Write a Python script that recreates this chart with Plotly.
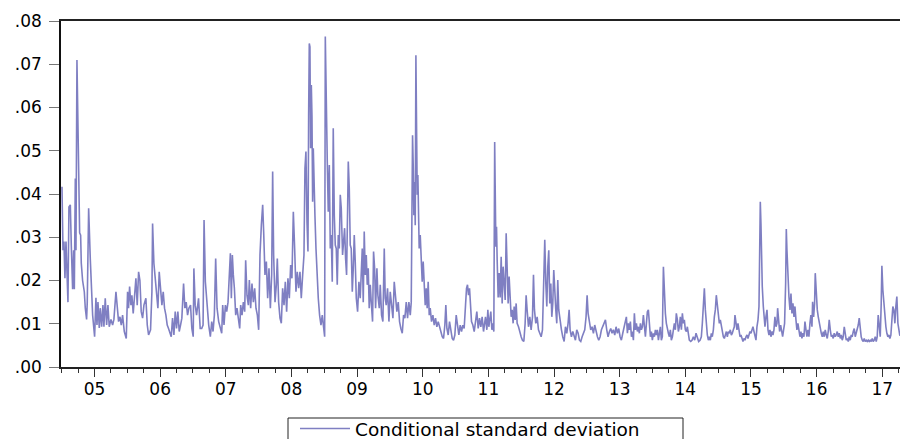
import numpy as np
import plotly.graph_objects as go

# ---- data (decimal year, conditional standard deviation) ----
years_1 = [2004.505, 2004.520, 2004.535, 2004.550, 2004.566, 2004.581, 2004.596, 2004.611, 2004.632, 2004.647,
           2004.667, 2004.682, 2004.693, 2004.708, 2004.718, 2004.733, 2004.748, 2004.758, 2004.774, 2004.789,
           2004.799, 2004.819, 2004.845, 2004.860, 2004.880, 2004.890, 2004.911, 2004.936, 2004.951, 2004.972,
           2005.002, 2005.022, 2005.038, 2005.053, 2005.073, 2005.088, 2005.109, 2005.129, 2005.144, 2005.164,
           2005.185, 2005.205, 2005.225, 2005.251, 2005.276, 2005.296, 2005.327, 2005.347, 2005.367, 2005.388,
           2005.408, 2005.428, 2005.454, 2005.484, 2005.504, 2005.519, 2005.535, 2005.555, 2005.570, 2005.590,
           2005.611, 2005.631, 2005.651, 2005.672, 2005.692, 2005.712, 2005.733, 2005.753, 2005.783, 2005.804,
           2005.824, 2005.854, 2005.875, 2005.885, 2005.905, 2005.925, 2005.946, 2005.966, 2005.986, 2006.007,
           2006.027, 2006.047, 2006.067, 2006.088, 2006.108, 2006.128, 2006.149, 2006.169, 2006.189, 2006.210,
           2006.230, 2006.250, 2006.270, 2006.291, 2006.311, 2006.331, 2006.357, 2006.377, 2006.397, 2006.418,
           2006.438, 2006.463, 2006.483, 2006.504, 2006.514, 2006.534, 2006.555, 2006.585, 2006.610]
values_1 = [.0417, .027, .029, .0205, .029, .020, .015, .037, .0375, .028,
            .018, .027, .018, .0436, .027, .071, .058, .050, .031, .0305,
            .024, .020, .0174, .0136, .011, .015, .0367, .025, .018, .012,
            .007, .016, .0097, .015, .009, .0136, .0093, .0143, .0093, .0159,
            .0097, .0143, .0093, .011, .0097, .011, .0174, .0136, .0105, .0116,
            .0097, .012, .0082, .0066, .0174, .0136, .0186, .0143, .0166, .0124,
            .0159, .0205, .0143, .022, .020, .0128, .0113, .0143, .0159, .0097,
            .0074, .0086, .0174, .0332, .024, .021, .0166, .0136, .022, .018,
            .0143, .0174, .0136, .012, .0097, .0089, .0078, .007, .0113, .0074,
            .0128, .0089, .0128, .0082, .0097, .0113, .0193, .0136, .015, .012,
            .0136, .0143, .0089, .007, .0228, .0143, .012, .0159, .0089]

years_2 = [2006.633, 2006.654, 2006.669, 2006.689, 2006.715, 2006.740, 2006.765, 2006.786, 2006.806, 2006.826,
           2006.846, 2006.867, 2006.892, 2006.917, 2006.938, 2006.953, 2006.973, 2006.994, 2007.014, 2007.034,
           2007.054, 2007.070, 2007.085, 2007.100, 2007.115, 2007.131, 2007.151, 2007.171, 2007.191, 2007.212,
           2007.227, 2007.247, 2007.268, 2007.288, 2007.303, 2007.323, 2007.344, 2007.359, 2007.379, 2007.399,
           2007.420, 2007.440, 2007.460, 2007.481, 2007.501, 2007.521, 2007.542, 2007.562, 2007.577, 2007.597,
           2007.618, 2007.638, 2007.658, 2007.679, 2007.699, 2007.714, 2007.729, 2007.750, 2007.770, 2007.785,
           2007.805, 2007.826, 2007.846, 2007.866, 2007.887, 2007.907, 2007.927, 2007.947, 2007.968, 2007.988,
           2008.008, 2008.029, 2008.049, 2008.069, 2008.089, 2008.110, 2008.130, 2008.150, 2008.171, 2008.191,
           2008.206, 2008.221, 2008.237, 2008.252, 2008.262, 2008.272, 2008.282, 2008.292, 2008.303, 2008.313,
           2008.323, 2008.333, 2008.343, 2008.358, 2008.374, 2008.389, 2008.409, 2008.429, 2008.450, 2008.470,
           2008.490, 2008.506, 2008.516, 2008.531, 2008.546, 2008.561, 2008.577, 2008.592, 2008.607, 2008.622,
           2008.637, 2008.653, 2008.668, 2008.683, 2008.698, 2008.714, 2008.729, 2008.744, 2008.759, 2008.779,
           2008.800]
values_2 = [.0089, .0097, .034, .0197, .0136, .0097, .007, .0105, .0082, .012,
            .0251, .0136, .0105, .0089, .0078, .0143, .0097, .0143, .0128, .015,
            .0228, .0263, .0159, .0259, .0213, .0182, .012, .0136, .0113, .0089,
            .0143, .012, .015, .0128, .0247, .0166, .0143, .0201, .0136, .0193,
            .015, .0182, .0136, .012, .0086, .0259, .0328, .0375, .0313, .0213,
            .0244, .0159, .0228, .0136, .0213, .0452, .0259, .015, .019, .0251,
            .015, .0113, .0101, .0182, .0143, .0197, .0128, .0205, .0159, .0236,
            .0205, .0359, .0274, .0174, .022, .0182, .022, .0159, .0213, .0259,
            .0459, .0498, .0336, .0267, .058, .0748, .074, .0506, .0652, .058,
            .0382, .0506, .0413, .0351, .0274, .0213, .0159, .012, .0097, .012,
            .0082, .007, .0764, .058, .0475, .0359, .0467, .0274, .0305, .0197,
            .0552, .0351, .0282, .0274, .019, .0305, .0274, .0398, .0367, .0259,
            .0321]

years_3 = [2008.810, 2008.825, 2008.840, 2008.856, 2008.866, 2008.881, 2008.896, 2008.911, 2008.927, 2008.942,
           2008.957, 2008.972, 2008.988, 2009.008, 2009.028, 2009.048, 2009.064, 2009.079, 2009.094, 2009.109,
           2009.125, 2009.140, 2009.155, 2009.170, 2009.185, 2009.201, 2009.216, 2009.236, 2009.251, 2009.267,
           2009.282, 2009.302, 2009.317, 2009.338, 2009.353, 2009.373, 2009.393, 2009.414, 2009.429, 2009.444,
           2009.464, 2009.485, 2009.505, 2009.525, 2009.546, 2009.566, 2009.586, 2009.606, 2009.627, 2009.647,
           2009.667, 2009.688, 2009.708, 2009.728, 2009.749, 2009.769, 2009.789, 2009.810, 2009.825, 2009.835,
           2009.845, 2009.855, 2009.865, 2009.875, 2009.886, 2009.896, 2009.906, 2009.916, 2009.926, 2009.936,
           2009.946, 2009.962, 2009.977, 2009.992, 2010.007, 2010.023, 2010.038, 2010.053, 2010.068, 2010.083,
           2010.099, 2010.114, 2010.134, 2010.155, 2010.175, 2010.195, 2010.215, 2010.236, 2010.256, 2010.276,
           2010.297, 2010.317, 2010.337, 2010.352, 2010.368, 2010.388, 2010.408, 2010.428, 2010.449, 2010.469,
           2010.489, 2010.510, 2010.530, 2010.550, 2010.571, 2010.591, 2010.611, 2010.631, 2010.652, 2010.667,
           2010.682, 2010.697, 2010.713, 2010.728, 2010.743, 2010.763, 2010.784, 2010.804, 2010.824, 2010.845,
           2010.865, 2010.885, 2010.905, 2010.926]
values_3 = [.0321, .0251, .0213, .0367, .0475, .0413, .0282, .0274, .0174, .0228,
            .0305, .0244, .0159, .0128, .0197, .0159, .0213, .0274, .015, .0313,
            .0213, .0259, .019, .0228, .0136, .019, .015, .0105, .0267, .0228,
            .0136, .0228, .0166, .0136, .019, .012, .0105, .0274, .0159, .0143,
            .0182, .0105, .0174, .0136, .0113, .0197, .0159, .0128, .015, .0105,
            .0089, .0078, .012, .0113, .015, .0113, .015, .012, .015, .0344,
            .0536, .0467, .0351, .0428, .0328, .0721, .0583, .0398, .0444, .0351,
            .0274, .0305, .0244, .0197, .0244, .0197, .0143, .0182, .0136, .0197,
            .012, .0136, .0105, .012, .0097, .0113, .0093, .0105, .0089, .0082,
            .007, .0066, .0097, .0143, .0089, .0074, .0105, .0082, .0066, .0062,
            .0074, .012, .0089, .0074, .0097, .0082, .0097, .0089, .0143, .0182,
            .019, .0166, .0182, .0136, .0105, .0097, .0082, .0105, .0128, .0089,
            .0113, .0093, .0116, .0082]

years_4 = [2010.936, 2010.956, 2010.977, 2010.992, 2011.007, 2011.022, 2011.037, 2011.053, 2011.068, 2011.083,
           2011.091, 2011.096, 2011.103, 2011.114, 2011.124, 2011.134, 2011.149, 2011.164, 2011.179, 2011.195,
           2011.210, 2011.225, 2011.240, 2011.256, 2011.271, 2011.286, 2011.301, 2011.316, 2011.332, 2011.347,
           2011.362, 2011.377, 2011.393, 2011.408, 2011.423, 2011.438, 2011.459, 2011.479, 2011.499, 2011.519,
           2011.540, 2011.560, 2011.575, 2011.590, 2011.611, 2011.631, 2011.651, 2011.672, 2011.687, 2011.702,
           2011.722, 2011.743, 2011.763, 2011.783, 2011.804, 2011.824, 2011.844, 2011.859, 2011.875, 2011.890,
           2011.905, 2011.920, 2011.935, 2011.951, 2011.966, 2011.981, 2011.996, 2012.012, 2012.027, 2012.042,
           2012.057, 2012.072, 2012.093, 2012.113, 2012.133, 2012.154, 2012.174, 2012.194, 2012.214, 2012.230,
           2012.245, 2012.265, 2012.286, 2012.306, 2012.326, 2012.346, 2012.367, 2012.387, 2012.407, 2012.428,
           2012.448, 2012.468, 2012.488, 2012.504, 2012.519, 2012.539, 2012.559, 2012.580, 2012.600, 2012.620,
           2012.641, 2012.661, 2012.681, 2012.702, 2012.722, 2012.742, 2012.762, 2012.783, 2012.803, 2012.823,
           2012.844, 2012.864, 2012.884, 2012.904, 2012.925, 2012.945, 2012.965, 2012.986, 2013.006, 2013.026,
           2013.047, 2013.067]
values_4 = [.0093, .0116, .0086, .0132, .0093, .0109, .0128, .0086, .0101, .0082,
            .030, .052, .0425, .0278, .0324, .0247, .0161, .0217, .0161, .0255,
            .0147, .0232, .0178, .0155, .0309, .0193, .0147, .0209, .0155, .0116,
            .0132, .0101, .014, .0109, .0147, .0101, .0093, .0078, .007, .0062,
            .0059, .0101, .0166, .0132, .0093, .0116, .0086, .0116, .0213, .0132,
            .0101, .0116, .0086, .0078, .007, .0086, .0178, .0294, .0193, .014,
            .0232, .027, .0147, .0193, .0116, .0147, .0224, .0163, .0132, .0101,
            .0201, .0132, .0101, .0086, .007, .0059, .0093, .0078, .0101, .0132,
            .0086, .007, .0082, .007, .0062, .0086, .0078, .0062, .0059, .007,
            .0078, .0086, .0116, .0166, .0124, .0101, .0086, .0093, .0078, .0097,
            .0082, .007, .0062, .007, .0086, .0093, .0101, .0109, .0086, .007,
            .0082, .0089, .0078, .0086, .0074, .0093, .0078, .0089, .007, .0062,
            .0078, .0093]

years_5 = [2013.087, 2013.102, 2013.118, 2013.133, 2013.148, 2013.163, 2013.179, 2013.194, 2013.209, 2013.224,
           2013.239, 2013.255, 2013.270, 2013.285, 2013.300, 2013.316, 2013.331, 2013.346, 2013.361, 2013.376,
           2013.392, 2013.407, 2013.422, 2013.437, 2013.453, 2013.468, 2013.483, 2013.498, 2013.513, 2013.529,
           2013.544, 2013.559, 2013.574, 2013.590, 2013.605, 2013.620, 2013.635, 2013.650, 2013.666, 2013.681,
           2013.696, 2013.711, 2013.727, 2013.742, 2013.757, 2013.772, 2013.787, 2013.803, 2013.818, 2013.833,
           2013.848, 2013.863, 2013.879, 2013.894, 2013.909, 2013.924, 2013.940, 2013.955, 2013.970, 2013.985,
           2014.000, 2014.016, 2014.031, 2014.046, 2014.061, 2014.082, 2014.102, 2014.122, 2014.143, 2014.163,
           2014.183, 2014.203, 2014.224, 2014.244, 2014.259, 2014.274, 2014.290, 2014.305, 2014.320, 2014.335,
           2014.351, 2014.366, 2014.381, 2014.396, 2014.411, 2014.427, 2014.442, 2014.457, 2014.472, 2014.488,
           2014.503, 2014.518, 2014.533, 2014.548, 2014.564, 2014.579, 2014.594, 2014.609, 2014.625, 2014.640,
           2014.655, 2014.670, 2014.685, 2014.701, 2014.716, 2014.731, 2014.746, 2014.756, 2014.772, 2014.787,
           2014.802, 2014.817, 2014.833, 2014.848, 2014.863, 2014.878, 2014.893, 2014.909, 2014.924, 2014.939,
           2014.954, 2014.970, 2014.985, 2015.000, 2015.015, 2015.030, 2015.046, 2015.061, 2015.076, 2015.091,
           2015.107, 2015.122, 2015.132, 2015.142, 2015.152, 2015.162, 2015.172, 2015.188, 2015.203]
values_5 = [.0109, .0116, .0078, .0101, .0086, .0105, .007, .0082, .0062, .0124,
            .0086, .0101, .0082, .0093, .0078, .0101, .0086, .0093, .012, .0086,
            .007, .0101, .0128, .0132, .0086, .007, .0082, .0062, .0078, .007,
            .0086, .0074, .0086, .0062, .0078, .0093, .0062, .007, .0232, .0163,
            .0124, .0101, .0086, .0078, .007, .0086, .0062, .007, .0086, .0101,
            .0086, .0124, .0109, .0082, .0093, .0116, .0086, .0124, .0101, .0109,
            .0086, .0082, .0093, .007, .0062, .0059, .0062, .007, .0062, .0078,
            .007, .0059, .0062, .007, .0101, .014, .0182, .0132, .0093, .0074,
            .0062, .007, .0062, .0078, .007, .0086, .0116, .0132, .0166, .0147,
            .0116, .0101, .0109, .0093, .0082, .007, .0066, .0078, .0082, .007,
            .0082, .0078, .0086, .0074, .0078, .0086, .0093, .012, .0101, .0086,
            .0101, .0086, .007, .0074, .0066, .0059, .0066, .0062, .007, .0074,
            .0066, .0078, .0082, .0078, .0086, .0093, .0082, .0074, .0062, .0093,
            .0109, .014, .0271, .0382, .0332, .0247, .0186, .014, .0101]

years_6 = [2015.213, 2015.228, 2015.244, 2015.259, 2015.274, 2015.289, 2015.304, 2015.320, 2015.335, 2015.350,
           2015.365, 2015.381, 2015.396, 2015.406, 2015.421, 2015.436, 2015.452, 2015.467, 2015.482, 2015.497,
           2015.512, 2015.528, 2015.538, 2015.548, 2015.563, 2015.578, 2015.594, 2015.609, 2015.624, 2015.639,
           2015.655, 2015.670, 2015.685, 2015.700, 2015.715, 2015.731, 2015.746, 2015.761, 2015.776, 2015.792,
           2015.807, 2015.822, 2015.837, 2015.852, 2015.868, 2015.883, 2015.898, 2015.913, 2015.929, 2015.939,
           2015.954, 2015.969, 2015.979, 2015.994, 2016.010, 2016.025, 2016.040, 2016.055, 2016.071, 2016.086,
           2016.101, 2016.116, 2016.131, 2016.147, 2016.162, 2016.177, 2016.192, 2016.208, 2016.223, 2016.238,
           2016.253, 2016.268, 2016.284, 2016.299, 2016.314, 2016.329, 2016.345, 2016.360, 2016.375, 2016.390,
           2016.405, 2016.421, 2016.436, 2016.451, 2016.466, 2016.482, 2016.497, 2016.512, 2016.527, 2016.542,
           2016.558, 2016.573, 2016.588, 2016.603, 2016.619, 2016.634, 2016.649, 2016.664, 2016.679, 2016.695,
           2016.710, 2016.725, 2016.740, 2016.756, 2016.771, 2016.786, 2016.801, 2016.816, 2016.832, 2016.847,
           2016.862, 2016.877, 2016.893, 2016.908, 2016.923, 2016.938, 2016.953, 2016.969, 2016.984, 2016.994,
           2017.009, 2017.024, 2017.040, 2017.055, 2017.070, 2017.085, 2017.101, 2017.116, 2017.131, 2017.146,
           2017.161, 2017.177, 2017.192, 2017.207, 2017.222, 2017.238, 2017.253, 2017.268]
values_6 = [.0093, .0116, .0132, .0086, .0074, .0086, .007, .0082, .0074, .0086,
            .0116, .0093, .0101, .0136, .0093, .0082, .0097, .0086, .007, .0086,
            .0101, .0193, .0319, .027, .0209, .0163, .0132, .017, .0124, .0147,
            .0116, .014, .0109, .0086, .0101, .0078, .007, .0082, .0066, .0078,
            .007, .0105, .0078, .007, .0086, .007, .0101, .012, .0093, .0151,
            .0116, .0147, .0217, .0163, .0132, .0116, .0101, .0086, .0078, .007,
            .0082, .007, .0086, .0074, .0066, .0082, .0109, .0086, .007, .0074,
            .0066, .0078, .007, .0074, .0082, .007, .0078, .0066, .0074, .0062,
            .007, .0093, .0074, .0062, .0066, .0059, .007, .0062, .0074, .007,
            .0082, .0089, .007, .0078, .0086, .0097, .0113, .0089, .007, .0062,
            .0059, .0066, .0059, .0062, .0059, .0062, .0059, .0062, .0059, .0066,
            .0059, .0062, .007, .0059, .007, .012, .0086, .007, .0147, .0234,
            .0178, .0147, .0116, .0093, .0078, .007, .0074, .0066, .0074, .0101,
            .014, .0132, .0101, .014, .0163, .0101, .0086, .0072]

year_labels = ["05", "06", "07", "08", "09", "10", "11", "12", "13", "14", "15", "16", "17"]
label_years = list(range(2005, 2018))
y_ticks = [0.00, 0.01, 0.02, 0.03, 0.04, 0.05, 0.06, 0.07, 0.08]
y_tick_text = [".00", ".01", ".02", ".03", ".04", ".05", ".06", ".07", ".08"]
series_name = "Conditional standard deviation"

years = years_1 + years_2 + years_3 + years_4 + years_5 + years_6
values = values_1 + values_2 + values_3 + values_4 + values_5 + values_6

LINE = "#7f7fc2"
FONT = "DejaVu Sans"

fig = go.Figure()
fig.add_trace(go.Scatter(x=years, y=values, mode="lines", name=series_name,
                         line=dict(color=LINE, width=1.6), showlegend=True))

# major ticks every half year (labels on year starts), minor every quarter
half_years = np.arange(2004.5, 2017.3, 0.5)
major_text = [year_labels[label_years.index(int(v))] if float(v).is_integer() else "" for v in half_years]
quarters = np.arange(2004.5, 2017.3, 0.25)

fig.update_layout(
    width=900, height=439,
    margin=dict(l=61, r=0, t=21, b=72, autoexpand=False),
    paper_bgcolor="white", plot_bgcolor="white",
    font=dict(family=FONT, size=16, color="black"),
    xaxis=dict(range=[2004.49, 2017.27], tickmode="array", tickvals=list(half_years), ticktext=major_text,
               ticks="outside", ticklen=8, tickwidth=1, tickcolor="#333333",
               showline=True, linecolor="#222222", linewidth=1.5, mirror=True,
               showgrid=False, zeroline=False, tickfont=dict(size=17), ticklabelstandoff=-2,
               minor=dict(tickvals=list(quarters), ticks="outside", ticklen=4, tickcolor="#333333", showgrid=False)),
    yaxis=dict(range=[0, 0.08], tickmode="array", tickvals=y_ticks, ticktext=y_tick_text,
               ticks="outside", ticklen=10, tickwidth=1, tickcolor="#777777",
               showline=True, linecolor="#111111", linewidth=1.5, mirror=False,
               showgrid=False, zeroline=False, tickfont=dict(size=17), ticklabelstandoff=4),
    legend=dict(orientation="h", x=(295 - 61) / 839, xanchor="left", y=(367 - 410) / 346, yanchor="top",
                borderwidth=0, bgcolor="rgba(0,0,0,0)",
                font=dict(size=18.5), itemwidth=50),
    shapes=[dict(type="rect", xref="paper", yref="paper",
                 x0=(288 - 61) / 839, x1=(683 - 61) / 839, y0=(367 - 418) / 346, y1=(367 - 450) / 346,
                 line=dict(color="#222222", width=1), fillcolor="rgba(0,0,0,0)", layer="below")],
)

fig.write_html("out.html")
